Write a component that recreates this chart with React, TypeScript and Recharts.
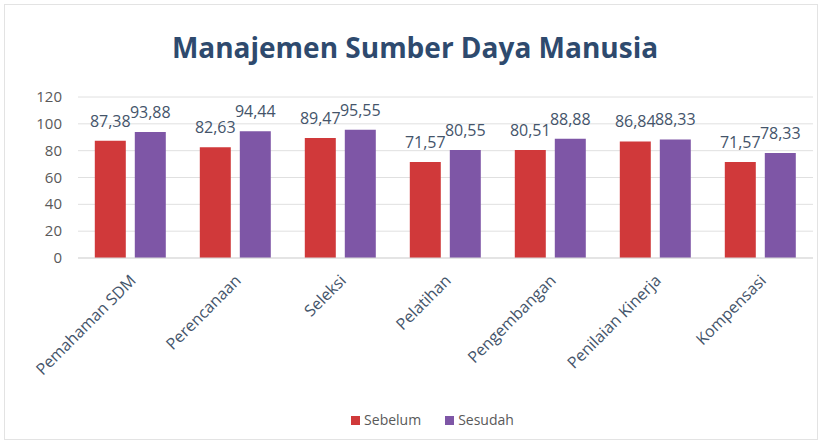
import React from "react";
import {
  BarChart,
  Bar,
  XAxis,
  YAxis,
  CartesianGrid,
  Legend,
  LabelList,
} from "recharts";

const categories = [
  "Pemahaman SDM",
  "Perencanaan",
  "Seleksi",
  "Pelatihan",
  "Pengembangan",
  "Penilaian Kinerja",
  "Kompensasi",
];
const sebelum = [87.38, 82.63, 89.47, 71.57, 80.51, 86.84, 71.57];
const sesudah = [93.88, 94.44, 95.55, 80.55, 88.88, 88.33, 78.33];
const yTicks = [0, 20, 40, 60, 80, 100, 120];

const data = categories.map((name, i) => ({
  name,
  sebelum: sebelum[i],
  sesudah: sesudah[i],
}));

const FONT = "'Open Sans', sans-serif";
const fmt = (v: any) => Number(v).toFixed(2).replace(".", ",");

// rotated category labels, Excel style
function AngledTick(props: any) {
  const { x, y, payload } = props;
  return (
    <g transform={`translate(${x + 3},${y + 12})`}>
      <text
        transform="rotate(-45)"
        textAnchor="end"
        fill="#44546a"
        fontSize={16}
        fontFamily={FONT}
        dy={5}
      >
        {payload.value}
      </text>
    </g>
  );
}

function YTick(props: any) {
  const { x, y, payload } = props;
  return (
    <text
      x={x - 8}
      y={y}
      dy={5}
      textAnchor="end"
      fill="#595959"
      fontSize={15}
      fontFamily={FONT}
    >
      {payload.value}
    </text>
  );
}

export default function App() {
  return (
    <div
      style={{
        position: "absolute",
        left: 0,
        top: 0,
        width: 822,
        height: 444,
        background: "#fff",
        fontFamily: FONT,
      }}
    >
      <div
        style={{
          position: "absolute",
          left: 4,
          top: 4,
          width: 812,
          height: 434,
          border: "1px solid #e3e3e3",
        }}
      />
      <div
        style={{
          position: "absolute",
          top: 28,
          left: 4,
          width: 822,
          textAlign: "center",
          fontSize: 28,
          fontWeight: 700,
          color: "#2e4a6e",
        }}
      >
        Manajemen Sumber Daya Manusia
      </div>
      <div style={{ position: "absolute", left: 0, top: 0 }}>
        <BarChart
          width={822}
          height={444}
          data={data}
          margin={{ top: 97, right: 9, bottom: 6, left: 36 }}
          barCategoryGap="16%"
          barGap={9}
        >
          <CartesianGrid vertical={false} stroke="#e0e0e0" />
          <XAxis
            dataKey="name"
            tick={<AngledTick />}
            tickLine={false}
            axisLine={{ stroke: "#d9d9d9" }}
            interval={0}
            height={150}
          />
          <YAxis
            domain={[0, 120]}
            ticks={yTicks}
            width={42}
            tickLine={false}
            axisLine={false}
            tick={<YTick />}
          />
          <Legend
            verticalAlign="bottom"
            iconType="square"
            iconSize={9}
            height={30}
            wrapperStyle={{ paddingLeft: 20 }}
            formatter={(v: string) => (
              <span style={{ color: "#595959", fontSize: 14, marginRight: 14 }}>
                {v}
              </span>
            )}
          />
          <Bar
            dataKey="sebelum"
            name="Sebelum"
            fill="#d0393a"
            isAnimationActive={false}
          >
            <LabelList
              dataKey="sebelum"
              position="top"
              offset={14}
              formatter={fmt}
              fill="#44546a"
              fontSize={16}
              fontFamily={FONT}
            />
          </Bar>
          <Bar
            dataKey="sesudah"
            name="Sesudah"
            fill="#7e56a6"
            isAnimationActive={false}
          >
            <LabelList
              dataKey="sesudah"
              position="top"
              offset={14}
              formatter={fmt}
              fill="#44546a"
              fontSize={16}
              fontFamily={FONT}
            />
          </Bar>
        </BarChart>
      </div>
    </div>
  );
}
